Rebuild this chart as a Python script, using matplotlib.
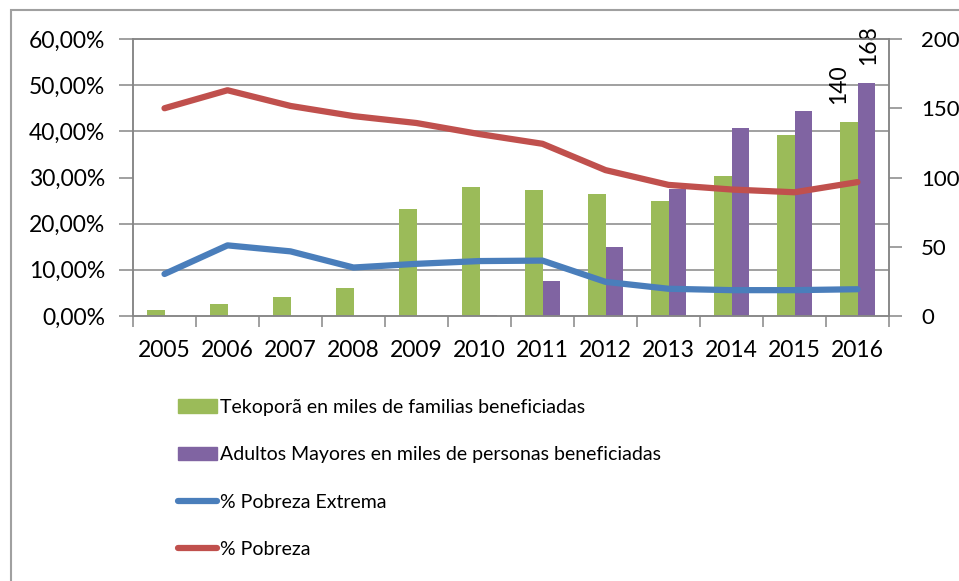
import numpy as np
import matplotlib
matplotlib.use("Agg")
from matplotlib import pyplot as plt
from matplotlib.ticker import FuncFormatter
from matplotlib.patches import Rectangle, Patch
from matplotlib.lines import Line2D

plt.rcParams['font.family'] = ['Lato', 'DejaVu Sans']

years = ['2005', '2006', '2007', '2008', '2009', '2010',
         '2011', '2012', '2013', '2014', '2015', '2016']
tekopora = [4, 9, 14, 20, 77, 93, 91, 88, 83, 101, 131, 140]
adultos = [0, 0, 0, 0, 0, 0.6, 25, 50, 92, 136, 148, 168]
pobreza_ext = [9.1, 15.3, 14.0, 10.5, 11.3, 11.9, 12.0, 7.4, 5.9, 5.6, 5.6, 5.8]
pobreza = [45.0, 48.9, 45.5, 43.3, 41.8, 39.4, 37.3, 31.6, 28.4, 27.4, 26.8, 29.0]

green = '#9BBB59'
purple = '#8064A2'
blue = '#4A7EBB'
red = '#C0504D'
gray = '#868686'

fig = plt.figure(figsize=(9.59, 5.81), dpi=100)
ax = fig.add_axes([133/959, 1-316/581, (889-133)/959, (316-39)/581])
ax2 = ax.twinx()
ax.set_zorder(ax2.get_zorder() + 1)
ax.patch.set_visible(False)

x = np.arange(len(years))
w = 0.285
ax2.bar(x - w/2, tekopora, w, color=green)
ax2.bar(x + w/2, adultos, w, color=purple)
ax2.set_ylim(0, 200)
ax2.set_yticks(np.arange(0, 201, 50))
ax2.set_yticks(np.linspace(0, 200, 7), minor=True)
ax2.grid(which='minor', axis='y', color=gray, lw=1.1)
ax2.set_axisbelow(True)
ax2.tick_params(axis='y', which='major', direction='out', length=9, width=1.1,
                color=gray, pad=14, labelsize=16)
ax2.tick_params(axis='y', which='minor', length=0)

# labels on the 2016 bars
ax2.annotate(str(tekopora[-1]), (x[-1] - w/2, tekopora[-1]), xytext=(-7, 13),
             textcoords='offset points', rotation=90, ha='center', va='bottom', fontsize=16.5)
ax2.annotate(str(adultos[-1]), (x[-1] + w/2, adultos[-1]), xytext=(1.5, 13),
             textcoords='offset points', rotation=90, ha='center', va='bottom', fontsize=16.5)

ax.plot(x, pobreza_ext, color=blue, lw=4.5, solid_capstyle='round', solid_joinstyle='round')
ax.plot(x, pobreza, color=red, lw=4.5, solid_capstyle='round', solid_joinstyle='round')
ax.set_ylim(0, 60)
ax.set_yticks(np.arange(0, 61, 10))
ax.yaxis.set_major_formatter(FuncFormatter(lambda v, p: f"{v:.2f}%".replace('.', ',')))
ax.tick_params(axis='y', direction='out', length=10, width=1.1, color=gray, pad=10, labelsize=16.5)

ax.set_xlim(-0.5, len(years) - 0.5)
ax.set_xticks(x)
ax.set_xticklabels(years)
ax.set_xticks(np.arange(-0.5, len(years), 1), minor=True)
ax.tick_params(axis='x', which='major', length=0, pad=17, labelsize=16.5)
ax.tick_params(axis='x', which='minor', direction='out', length=8, width=1.1, color=gray)

for a in (ax, ax2):
    for s in a.spines.values():
        s.set_color(gray)
        s.set_linewidth(1.1)

handles = [Patch(color=green), Patch(color=purple),
           Line2D([], [], color=blue, lw=4.5, solid_capstyle='round'),
           Line2D([], [], color=red, lw=4.5, solid_capstyle='round')]
labels = ['Tekoporã en miles de familias beneficiadas',
          'Adultos Mayores en miles de personas beneficiadas',
          '% Pobreza Extrema', '% Pobreza']
fig.legend(handles, labels, loc='upper left', bbox_to_anchor=(178/959, 1-399/581),
           frameon=False, fontsize=14, handlelength=2.0, handletextpad=0.15,
           labelspacing=1.56, borderpad=0, borderaxespad=0)

fig.patches.append(Rectangle((11/959, -0.1), 1.1, 1.1 - 10/581,
                             transform=fig.transFigure, fill=False,
                             edgecolor='#a0a0a0', lw=1.5))

plt.savefig('out.png', dpi=100)
